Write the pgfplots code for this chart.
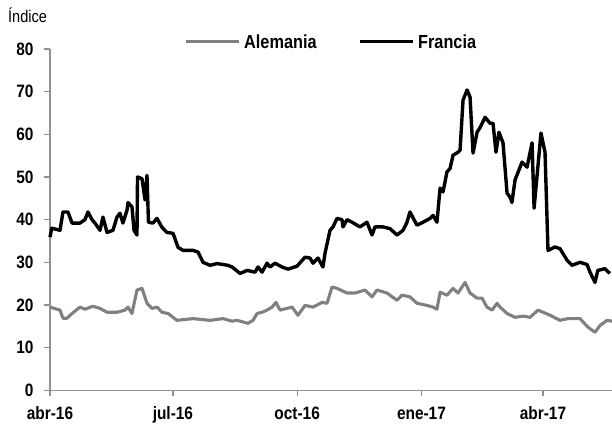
\documentclass[border=0pt]{standalone}
\usepackage{fontspec}
\setmainfont{Liberation Sans}[FakeStretch=0.86]
\usepackage{pgfplots}
\pgfplotsset{compat=1.18}
\definecolor{germ}{RGB}{128,128,128}
\definecolor{axgray}{RGB}{145,145,145}
\begin{document}
\begin{tikzpicture}[x=1bp,y=1bp]
\useasboundingbox (0,0) rectangle (612,430);
\begin{axis}[
  at={(50bp,39.7bp)}, anchor=south west,
  scale only axis, width=562bp, height=341.3bp,
  xmin=0, xmax=416.1, ymin=0, ymax=80,
  axis lines*=left,
  axis line style={axgray, line width=1.5bp},
  tick style={axgray, line width=1.3bp},
  tick align=outside, major tick length=6bp,
  ytick={0,10,...,80},
  xtick={0,91,183,275,365},
  xticklabels={abr-16,jul-16,oct-16,ene-17,abr-17},
  tick label style={font=\fontsize{18}{20}\selectfont\bfseries},
  /pgf/number format/assume math mode=true,
  yticklabel style={xshift=-7bp},
  xticklabel style={yshift=-7bp},
  clip=false,
]
\addplot[black, line width=3.4bp, line join=round] coordinates {
(0,35.9) (1.3,38) (7.4,37.5) (9.6,41.8) (13.3,41.8) (16.3,39.2) (22.2,39.2) (25.9,40)
(28.1,41.8) (31.1,40) (33.3,39.2) (37.0,37.5) (39.2,40.6) (42.2,37) (46.6,37.5)
(49.6,40.6) (51.8,41.5) (54.0,39.2) (57.0,42.2) (57.8,44) (60.7,43) (62.2,37.5)
(64.4,36.4) (64.8,50) (68.1,49.6) (70.4,44.6) (71.8,50.4) (72.9,39.4) (76.3,39.2)
(79.2,40.3) (82.9,38.2) (86.6,37) (91.1,36.8) (94.8,33.5) (98.5,32.8) (105.9,32.8)
(109.6,32.4) (113.3,30) (118.5,29.3) (123.7,29.7) (131.8,29.3) (134.8,28.9)
(140.7,27.4) (145.9,28.1) (151.8,27.7) (154.0,28.9) (157.0,27.7) (160.7,29.8)
(162.9,28.9) (166.6,29.8) (171.8,28.9) (176.2,28.4) (182.9,29.1) (188.8,31.2)
(192.5,31) (194.7,29.8) (198.4,31) (202.1,28.9) (203.6,32.1) (207.3,37.5)
(209.5,38.3) (212.5,40.3) (216.2,40) (216.9,38.3) (219.9,40) (223.6,39.4)
(229.5,38.3) (234.7,39.4) (238.4,36.4) (240.6,38.3) (246.5,38.3) (251.7,37.9)
(256.9,36.4) (261.4,37.5) (264.3,39.4) (266.5,41.8) (271.7,38.7) (276.2,39.4)
(281.4,40.3) (283.6,41) (286.5,39.4) (288.8,47.4) (291.0,46.5) (293.9,51.2)
(296.2,52) (298.4,55.1) (302.1,55.8) (303.6,56.3) (305.8,68) (308.8,70.4)
(311.0,68.7) (313.2,55.6) (316.2,60.5) (318.6,61.7) (322.1,64) (325.8,62.6)
(328.0,62.6) (330.2,55.8) (332.4,60.5) (335.4,58) (338.4,46.2) (340.6,45.3)
(342.0,44) (344.3,49.3) (349.5,53.5) (353.2,52.3) (356.9,58) (358.4,42.7)
(363.5,60.3) (366.5,55.8) (368.7,32.8) (373.9,33.6) (377.6,33.2) (382.8,30.5)
(386.5,29.3) (392.4,30) (397.6,29.5) (399.8,27.7) (403.5,25.3) (405.6,28.1)
(410.8,28.5) (414.5,27.4)
};
\addplot[germ, line width=3.1bp, line join=round] coordinates {
(0,19.5) (7.4,18.8) (9.6,16.9) (12.6,16.9) (16.3,18) (22.2,19.5) (25.9,19)
(31.8,19.7) (37.0,19.2) (42.2,18.3) (49.6,18.3) (55.5,18.8) (57.8,19.5) (60.7,18)
(64.4,23.5) (68.1,23.9) (71.8,20.4) (75.5,19.2) (79.2,19.5) (82.9,18.3) (87.4,18)
(94.0,16.4) (105.9,16.8) (118.5,16.4) (128.1,16.8) (134.8,16.2) (138.5,16.4)
(146.6,15.7) (150.3,16.4) (153.3,18) (157.0,18.3) (160.7,18.8) (164.4,19.5)
(167.3,20.6) (170.3,18.8) (179.2,19.5) (183.6,17.6) (188.8,19.9) (194.7,19.5)
(201.4,20.6) (205.1,20.4) (208.8,24.2) (212.5,23.9) (219.9,22.8) (225.8,22.8)
(233.2,23.5) (238.4,21.9) (242.1,23.5) (249.5,22.8) (256.9,21.1) (260.6,22.3)
(266.5,21.9) (271.7,20.4) (279.1,19.9) (283.6,19.5) (286.5,19) (288.8,23)
(293.9,22.3) (298.4,23.9) (302.1,22.8) (307.3,25.3) (311.0,22.8) (316.2,21.6)
(319.9,21.6) (323.5,19.5) (327.3,18.8) (331.0,20.4) (333.2,19.5) (338.4,18)
(344.3,17.1) (350.2,17.4) (355.4,17.1) (361.3,18.8) (370.2,17.6) (377.6,16.4)
(383.5,16.8) (392.4,16.8) (398.3,14.8) (403.5,13.6) (407.2,15.2) (412.4,16.4)
(416.1,16.2)
};
\end{axis}
% legend and labels
\draw[germ, line width=3.1bp] (186,388.3) -- (239,388.3);
\node[anchor=west, inner sep=0pt, font=\fontsize{19}{21}\selectfont\bfseries] at (244,388.3) {Alemania};
\draw[black, line width=3.4bp] (360,388.3) -- (413,388.3);
\node[anchor=west, inner sep=0pt, font=\fontsize{19}{21}\selectfont\bfseries] at (418,388.3) {Francia};
\node[anchor=base west, inner sep=0pt, font=\fontsize{17}{19}\selectfont] at (8,407) {Índice};
\node[anchor=base west, inner sep=0pt, font=\fontsize{19}{21}\selectfont\bfseries] at (156,433.5) {y};
\end{tikzpicture}
\end{document}
